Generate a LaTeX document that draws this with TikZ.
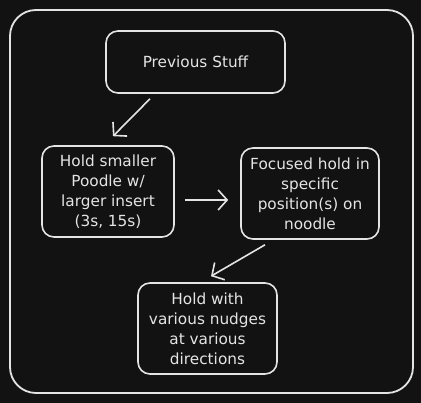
\documentclass[tikz,border=0pt]{standalone}
\usepackage{fontspec}
\setmainfont{DejaVu Sans}
\usetikzlibrary{arrows.meta}
\definecolor{bg}{HTML}{121212}
\definecolor{ink}{HTML}{E4E4E4}
\begin{document}
\begin{tikzpicture}[x=1pt,y=-1pt,
  box/.style={draw=ink,line width=1.6pt,rounded corners=12pt,text=ink,align=center,
    font=\fontsize{15.3}{20}\selectfont,inner sep=0pt},
  conn/.style={draw=ink,line width=1.6pt,-{Straight Barb[length=9pt,width=20pt,line width=1.6pt]}}]
\fill[bg] (0,0) rectangle (421,403);
\useasboundingbox (0,0) rectangle (421,403);
\draw[ink,line width=1.8pt,rounded corners=26pt] (10,10) rectangle (413,393);
\node[box,minimum width=179pt,minimum height=62pt] (prev) at (195.5,62) {Previous Stuff};
\node[box,minimum width=132pt,minimum height=91pt] (hold) at (108,191.5) {Hold smaller\\Poodle w/\\larger insert\\(3s, 15s)};
\node[box,minimum width=138pt,minimum height=91pt] (focus) at (310,193.5) {Focused hold in\\specific\\position(s) on\\noodle};
\node[box,minimum width=139pt,minimum height=91pt] (nudge) at (207.5,328.5) {Hold with\\various nudges\\at various\\directions};
\draw[conn] ([shift={(-45.5,5)}]prev.south) -- ([shift={(5,-9)}]hold.north);
\draw[conn] ([shift={(10,8.5)}]hold.east) -- ([shift={(-12,6.5)}]focus.west);
\draw[conn] ([shift={(-45,5)}]focus.south) -- ([shift={(3.5,-6)}]nudge.north);
\end{tikzpicture}
\end{document}
